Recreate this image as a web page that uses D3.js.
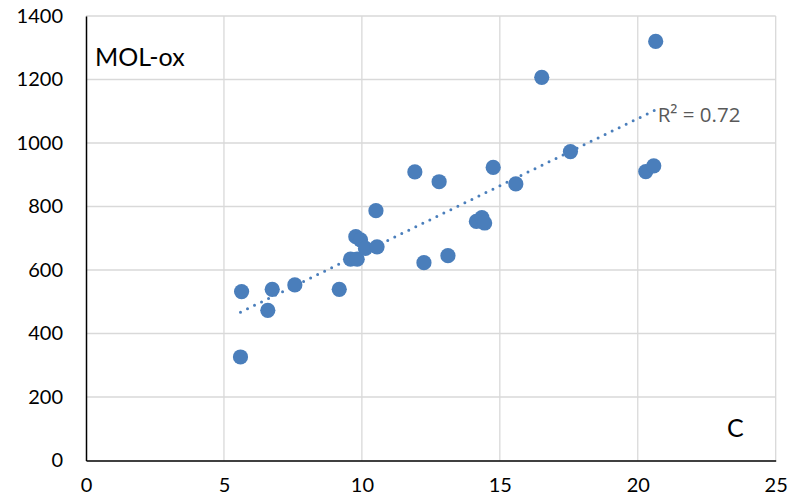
<!DOCTYPE html>
<html>
<head>
<meta charset="utf-8">
<script src="https://cdn.jsdelivr.net/npm/d3@7"></script>
<style>
  html, body { margin: 0; padding: 0; background: #fff; }
  svg { display: block; }
  text { font-family: Lato, "Open Sans", sans-serif; }
</style>
</head>
<body>
<svg id="chart" width="806" height="503"></svg>
<script>
// Carbon content (C) vs. MOL-ox, one entry per sample
const cValues = [5.60, 5.64, 6.59, 6.75, 7.57, 9.18, 9.59, 9.83, 9.78, 9.95, 10.13, 10.55, 10.51,
                 11.92, 12.25, 12.80, 13.12, 14.15, 14.35, 14.45, 14.76, 15.58, 16.52, 17.56,
                 20.29, 20.58, 20.65];
const molOxValues = [326, 532, 473, 539, 553, 539, 634, 634, 705, 695, 668, 673, 787,
                     909, 623, 878, 645, 753, 765, 748, 923, 871, 1207, 973,
                     910, 928, 1320];
const xTicks = [0, 5, 10, 15, 20, 25];
const yTicks = [0, 200, 400, 600, 800, 1000, 1200, 1400];
const rSquaredLabel = "R² = 0.72";
const yTitle = "MOL-ox";
const xTitle = "C";

const W = 806, H = 503;
const margin = { top: 16, right: 30.3, bottom: 42.5, left: 86 };
const svg = d3.select("#chart");

const x = d3.scaleLinear().domain([0, 25]).range([margin.left, W - margin.right]);
const y = d3.scaleLinear().domain([0, 1400]).range([H - margin.bottom, margin.top]);

const pointColor = "#4a7ebb";

// grid
const grid = svg.append("g").attr("stroke", "#d9d9d9").attr("stroke-width", 1.3);
grid.selectAll("line.gx").data(xTicks.slice(1)).join("line")
  .attr("x1", d => x(d)).attr("x2", d => x(d))
  .attr("y1", y(0)).attr("y2", y(1400));
grid.selectAll("line.gy").data(yTicks.slice(1)).join("line")
  .attr("x1", x(0)).attr("x2", x(25))
  .attr("y1", d => y(d)).attr("y2", d => y(d));

// axes
const xAxis = d3.axisBottom(x).tickValues(xTicks).tickSize(0).tickPadding(12)
  .tickFormat(d3.format("d"));
const yAxis = d3.axisLeft(y).tickValues(yTicks).tickSize(0).tickPadding(23)
  .tickFormat(d3.format("d"));

const gx = svg.append("g").attr("transform", `translate(0,${y(0)})`).call(xAxis);
const gy = svg.append("g").attr("transform", `translate(${x(0)},0)`).call(yAxis);
[gx, gy].forEach(g => {
  g.select(".domain").attr("stroke", "#000").attr("stroke-width", 1.5);
  g.selectAll("text").attr("font-size", 20).attr("fill", "#000");
});
gx.selectAll("text").attr("dy", "0.95em");

// linear least-squares trendline over the data range
const data = cValues.map((c, i) => ({ c, m: molOxValues[i] }));
const mx = d3.mean(data, d => d.c), my = d3.mean(data, d => d.m);
const sxy = d3.sum(data, d => (d.c - mx) * (d.m - my));
const sxx = d3.sum(data, d => (d.c - mx) ** 2);
const slope = sxy / sxx, intercept = my - slope * mx;
const [cMin, cMax] = d3.extent(cValues);

svg.append("line")
  .attr("x1", x(cMin)).attr("y1", y(intercept + slope * cMin))
  .attr("x2", x(cMax)).attr("y2", y(intercept + slope * cMax))
  .attr("stroke", pointColor).attr("stroke-width", 3)
  .attr("stroke-linecap", "round").attr("stroke-dasharray", "0 7.8");

// points
svg.append("g").selectAll("circle").data(data).join("circle")
  .attr("cx", d => x(d.c)).attr("cy", d => y(d.m)).attr("r", 7.6)
  .attr("fill", pointColor);

// labels
svg.append("text").attr("x", x(cMax) + 2).attr("y", 122)
  .attr("font-size", 20.5).attr("fill", "#595959")
  .style("font-family", "'Open Sans', sans-serif").text(rSquaredLabel);

svg.append("text").attr("x", 95).attr("y", 65.5)
  .attr("font-size", 25).attr("fill", "#000").text(yTitle);

svg.append("text").attr("x", 727).attr("y", 436.5)
  .attr("font-size", 25).attr("fill", "#000").text(xTitle);
</script>
</body>
</html>
